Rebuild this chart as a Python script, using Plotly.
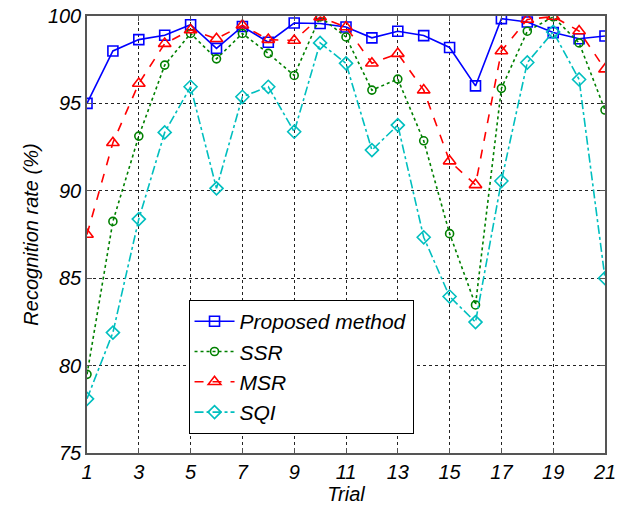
import plotly.graph_objects as go

trials = list(range(1, 22))
proposed = [95.0, 98.0, 98.65, 98.9, 99.5, 98.15, 99.4, 98.5, 99.6, 99.57, 99.37,
            98.75, 99.13, 98.88, 98.2, 96.0, 99.85, 99.66, 99.05, 98.7, 98.86]
ssr = [79.5, 88.25, 93.13, 97.19, 99.0, 97.55, 99.0, 97.86, 96.6, 99.95, 98.8,
       95.76, 96.39, 92.86, 87.55, 83.47, 95.86, 99.13, 99.95, 98.46, 94.62]
msr = [87.5, 92.75, 96.14, 98.42, 99.2, 98.7, 99.47, 98.65, 98.6, 99.94, 99.37,
       97.3, 97.85, 95.76, 91.7, 90.34, 98.0, 99.8, 99.97, 99.14, 96.96]
sqi = [78.1, 81.89, 88.38, 93.34, 95.95, 90.14, 95.38, 95.95, 93.38, 98.46, 97.29,
       92.33, 93.76, 87.34, 83.95, 82.49, 90.56, 97.34, 99.09, 96.37, 85.0]

x_ticks = list(range(1, 22, 2))
y_ticks = [75, 80, 85, 90, 95, 100]

series = [
    ("Proposed method", proposed, "#0000FF", "solid", "square-open", 10),
    ("SSR", ssr, "#008000", "dot", "circle-open", 8),
    ("MSR", msr, "#FF0000", "dash", "triangle-up-open", 11),
    ("SQI", sqi, "#00BFBF", "dashdot", "diamond-open", 10),
]

fig = go.Figure()
for name, vals, color, dash, sym, size in series:
    fig.add_trace(go.Scatter(
        x=trials, y=vals, name=name, mode="lines+markers",
        line=dict(color=color, dash=dash, width=1.6),
        marker=dict(symbol=sym, size=size, color=color, line=dict(width=1.6, color=color)),
    ))

FAM = "Liberation Sans, Arial, sans-serif"
tick_font = dict(family=FAM, size=20, color="black", style="italic")
title_font = dict(family=FAM, size=20, color="black", style="italic")

fig.update_layout(
    width=626, height=507,
    margin=dict(l=87, r=21, t=16, b=54),
    paper_bgcolor="white", plot_bgcolor="white",
    font=tick_font,
    showlegend=True,
    legend=dict(
        x=0.196, y=0.35, xanchor="left", yanchor="top",
        bordercolor="black", borderwidth=1, bgcolor="white",
        font=dict(family=FAM, size=21, color="black", style="italic"),
        tracegroupgap=0, itemwidth=40,
    ),
    xaxis=dict(
        range=[1, 21], tickvals=x_ticks, ticktext=[str(v) for v in x_ticks],
        showgrid=True, gridcolor="#222222", griddash="3px,3px", gridwidth=1,
        showline=True, linecolor="#555555", linewidth=1.5, mirror="ticks",
        ticks="inside", ticklen=5, tickcolor="#555555",
        zeroline=False, automargin=False, ticklabeloverflow="allow",
        tickfont=tick_font,
        title=dict(text="Trial", font=title_font, standoff=4),
    ),
    yaxis=dict(
        range=[75, 100], tickvals=y_ticks, ticktext=[str(v) for v in y_ticks],
        showgrid=True, gridcolor="#222222", griddash="3px,3px", gridwidth=1,
        showline=True, linecolor="#555555", linewidth=1.5, mirror="ticks",
        ticks="inside", ticklen=5, tickcolor="#555555",
        zeroline=False, automargin=False, ticklabeloverflow="allow",
        tickfont=tick_font,
        title=dict(text="Recognition rate (%)", font=title_font, standoff=4),
    ),
)

# remove the browser's default 8px body margin so the figure sits at the window origin
fig.write_html("out.html", config={"displayModeBar": False},
               post_script="document.body.style.margin='0';")
